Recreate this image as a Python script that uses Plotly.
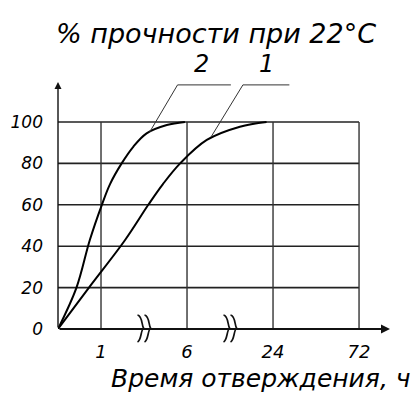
import plotly.graph_objects as go

# ---- data ----
time_labels = ["1", "6", "24", "72"]
time_pos = [1, 3, 5, 7]
y_ticks = [0, 20, 40, 60, 80, 100]

curve1_x = [0, 0.72, 1.56, 2.1, 2.44, 2.84, 3.46, 4.23, 4.85]
curve1_y = [0, 20, 43, 60, 70, 80, 91.3, 97.7, 100]
curve2_x = [0, 0.43, 0.74, 1.02, 1.21, 1.48, 1.75, 2.06, 2.53, 2.95]
curve2_y = [0, 20, 43, 60, 70, 80, 88, 94.5, 98.5, 100]

FONT = "DejaVu Sans"
XMAX = 7.72
YMAX = 119.3
L, R, T, B = 58, 27, 82, 68
PW, PH = 417 - L - R, 397 - T - B


def px_x(px):
    return (px - L) / PW


def px_y(py):
    return (397 - B - py) / PH


fig = go.Figure()
for cx, cy in [(curve1_x, curve1_y), (curve2_x, curve2_y)]:
    fig.add_trace(go.Scatter(x=cx, y=cy, mode="lines",
                             line=dict(color="black", width=2, shape="spline", smoothing=1.0),
                             hoverinfo="skip", showlegend=False))

shapes = []
for v in y_ticks[1:]:
    shapes.append(dict(type="line", x0=0, x1=time_pos[-1], y0=v, y1=v,
                       line=dict(color="#222", width=1.6), layer="below"))
for p in time_pos:
    shapes.append(dict(type="line", x0=p, x1=p, y0=0, y1=100,
                       line=dict(color="#333", width=1.4), layer="below"))
# leader lines
shapes.append(dict(type="path", path="M 2.12,94.7 L 2.78,117.9 L 4.02,117.9",
                   line=dict(color="#333", width=1)))
shapes.append(dict(type="path", path="M 3.56,92.8 L 4.30,117.9 L 5.38,117.9",
                   line=dict(color="#333", width=1)))
# axis breaks (paper-anchored so not clipped)
for bx in [2.0, 4.0]:
    for dx in (-3.5, 3.5):
        shapes.append(dict(type="path", xref="paper", yref="paper",
                           xsizemode="pixel", ysizemode="pixel",
                           xanchor=bx / XMAX, yanchor=0,
                           path=(f"M {dx-3},14 C {dx+2},13 {dx+1},4 {dx+3},1 "
                                 f"C {dx},-2 {dx+1},-11 {dx-3},-13"),
                           line=dict(color="#111", width=1.7), fillcolor="rgba(0,0,0,0)"))

tf = lambda s: dict(family=FONT, size=s, color="black", style="italic")


def label(px, py, text, size):
    return dict(x=px_x(px), y=px_y(py), xref="paper", yref="paper", text=text,
                xanchor="center", yanchor="middle", showarrow=False, font=tf(size))


annotations = [
    dict(x=XMAX, y=0, ax=0, ay=0, xref="x", yref="y", axref="x", ayref="y",
         showarrow=True, arrowhead=2, arrowsize=1, arrowwidth=1.8, arrowcolor="#111", text=""),
    dict(x=0, y=YMAX, ax=0, ay=0, xref="x", yref="y", axref="x", ayref="y",
         showarrow=True, arrowhead=2, arrowsize=1, arrowwidth=1.4, arrowcolor="#111", text=""),
    label(201, 64, "2", 24),
    label(266, 64, "1", 24),
    label(216, 33, "% прочности при 22°C", 27),
    label(261, 378, "Время отверждения, ч", 25),
]

fig.update_layout(
    width=417, height=397,
    margin=dict(l=L, r=R, t=T, b=B),
    paper_bgcolor="white", plot_bgcolor="white",
    shapes=shapes, annotations=annotations,
    xaxis=dict(range=[0, XMAX], tickvals=time_pos, ticktext=time_labels,
               showgrid=False, zeroline=False, showline=False, ticks="",
               ticklabelstandoff=10, tickfont=tf(18)),
    yaxis=dict(range=[0, YMAX], tickvals=y_ticks, ticktext=[str(v) for v in y_ticks],
               showgrid=False, zeroline=False, showline=False, ticks="",
               ticklabelstandoff=14, tickfont=tf(17)),
)

fig.write_html("out.html", config={"displayModeBar": False, "staticPlot": True},
               post_script="document.body.style.margin='0';document.body.style.padding='0';")
